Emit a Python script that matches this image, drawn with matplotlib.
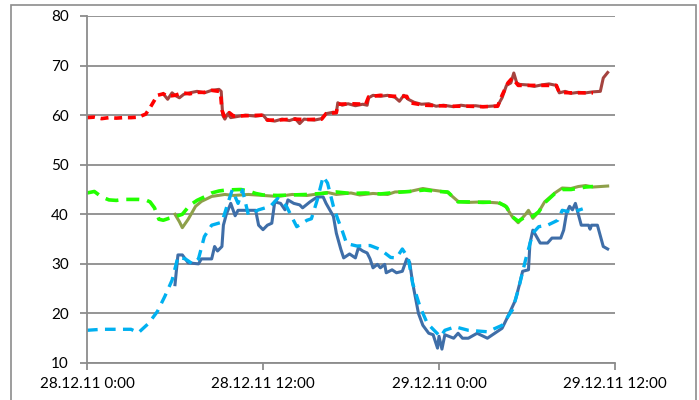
import matplotlib
matplotlib.use("Agg")
import matplotlib.pyplot as plt
import matplotlib.dates as mdates
from matplotlib.patches import Rectangle
from datetime import datetime, timedelta

start = datetime(2011, 12, 28, 0, 0)

# upper pair: computed (dashed) vs measured (solid)
red_t = [0, 0.5, 1, 1.5, 2, 2.5, 3, 3.5, 4, 4.3, 4.6, 4.8, 5.2, 5.5, 6, 6.5, 7, 7.5, 8, 8.5, 9, 9.1,
         9.2, 9.4, 9.7, 10, 11, 12, 12.3, 13, 14, 15, 16, 16.3, 17, 17.1, 18, 19, 19.2, 20, 21, 21.8,
         22, 22.6, 23, 24, 25, 26, 27, 28, 28.3, 28.7, 29, 29.4, 30, 31, 32, 32.2, 33, 34, 34.5]
red_v = [59.5, 59.6, 59.3, 59.5, 59.4, 59.5, 59.5, 59.6, 60.2, 61.5, 63, 64, 64.3, 63.8, 64, 64.5, 64.3,
         64.6, 64.6, 65, 64.8, 64.5, 61, 59.5, 60.5, 59.8, 59.9, 60, 59, 59, 59.2, 59.1, 59.2, 60.3, 60.5,
         62.2, 62.3, 62.2, 63.7, 64, 63.8, 63.8, 62.5, 62.2, 62, 61.9, 61.8, 61.8, 61.7, 61.8, 64, 66.5,
         67.5, 66, 66, 66, 66, 64.6, 64.5, 64.5, 64.5]

brown_t = [5.2, 5.5, 5.8, 6.0, 6.3, 6.6, 7, 7.5, 8, 8.5, 9, 9.15, 9.25, 9.4, 9.6, 9.8, 10.2, 10.8, 11.5,
           12, 12.3, 12.8, 13.3, 13.8, 14.2, 14.5, 14.8, 15.5, 16, 16.3, 16.8, 17.0, 17.1, 17.4, 17.8,
           18.3, 18.8, 19.1, 19.2, 19.5, 20, 20.5, 21, 21.3, 21.6, 21.9, 22.3, 22.8, 23.3, 23.8, 24.3,
           25, 25.5, 26, 26.5, 27, 27.5, 28, 28.3, 28.6, 28.9, 29.1, 29.3, 29.5, 30, 30.5, 31, 31.5, 32,
           32.2, 32.6, 33, 33.5, 34, 34.5, 35, 35.2, 35.5]
brown_v = [64.3, 63.2, 64.5, 64, 63.5, 64.2, 64.5, 64.8, 64.5, 65, 65.2, 64.8, 60, 59.2, 60.3, 59.5, 59.7,
           60, 59.8, 60, 59, 58.8, 59.2, 58.9, 59.3, 58.3, 59.2, 59, 59.3, 60.3, 60.6, 60.5, 62.5, 62,
           62.3, 61.9, 62.2, 62, 63.5, 64, 63.8, 64, 63.6, 62.8, 64, 63.2, 62.6, 62.2, 62.3, 61.8, 62,
           61.7, 62, 61.8, 61.9, 61.7, 61.8, 61.9, 63.5, 66, 66.5, 68.5, 66.5, 66.2, 66.1, 65.8, 66.1,
           66.3, 66, 64.5, 64.8, 64.4, 64.6, 64.5, 64.7, 64.8, 67.5, 68.6]

# middle pair
lime_t = [0, 0.5, 1, 1.5, 2, 2.5, 3, 3.5, 4, 4.3, 4.6, 4.9, 5.2, 5.6, 6, 6.5, 7, 7.5, 8, 8.5, 9, 9.5,
          10.5, 11, 11.5, 12, 13, 14, 15, 16, 17, 18, 19, 20, 21, 22, 23, 24, 24.6, 25.3, 26, 27, 28,
          28.6, 29, 29.4, 29.9, 30.4, 30.8, 31.2, 31.9, 32.4, 33, 34, 34.5]
lime_v = [44.3, 44.6, 43.5, 42.9, 42.8, 43, 43, 43, 42.9, 42.5, 41.3, 39, 38.8, 39.2, 39.5, 40, 41.8,
          42.8, 43.5, 44.3, 44.7, 44.9, 45, 44.7, 44.2, 43.9, 43.8, 43.9, 44, 44.2, 44.5, 44.2, 44.3,
          44.1, 44.4, 44.6, 44.9, 44.6, 44.5, 42.5, 42.5, 42.4, 42.5, 41.5, 39.5, 38.6, 39.5, 39.6,
          40.5, 42.3, 44.2, 45, 45, 45.5, 45.6]

olive_t = [6.0, 6.3, 6.5, 6.9, 7.4, 7.8, 8.5, 9.4, 10, 11, 12, 13, 14, 15, 16, 16.4, 17, 18, 18.6,
           19.5, 20.5, 21, 22, 22.9, 23.5, 24, 24.6, 25.3, 26, 27, 28, 28.5, 29, 29.4, 29.9, 30.1,
           30.4, 30.8, 31.2, 31.9, 32.4, 33, 33.5, 34, 34.5, 35, 35.5]
olive_v = [40, 38.5, 37.3, 39, 41.6, 42.6, 43.6, 44, 43.8, 44, 43.8, 43.6, 44, 43.8, 44.2, 44.4, 44,
           44.3, 43.9, 44.2, 44, 44.5, 44.6, 45.2, 44.9, 44.7, 44.4, 42.6, 42.4, 42.5, 42.3, 41.8, 39.5,
           38.3, 40, 40.8, 39.2, 40.5, 42.5, 44.3, 45.3, 45.2, 45.6, 45.8, 45.5, 45.6, 45.7]

# lower pair
sky_t = [0, 1, 2, 3, 3.5, 4.2, 4.8, 5.3, 5.8, 6.2, 6.7, 7.2, 7.6, 8.0, 8.5, 9.2, 9.6, 9.9, 10.3, 10.6,
         11, 11.7, 12.5, 13, 13.6, 14.3, 15, 15.3, 15.7, 16.1, 16.4, 16.8, 17.1, 17.4, 17.7, 18.4,
         19.3, 20, 20.7, 21.1, 21.5, 21.9, 22.2, 22.7, 23.2, 24.1, 24.4, 25.1, 26, 27.3, 28.3, 29,
         29.4, 29.9, 30.4, 30.8, 31.4, 32.1, 32.4, 33.1, 33.8]
sky_v = [16.6, 16.8, 16.8, 16.8, 16.1, 18, 20.4, 23.4, 26.7, 31.4, 31, 30, 31, 35.5, 37.8, 38.4, 42.2,
         44.9, 42.2, 44.9, 39.9, 40.9, 41.6, 43.2, 41.6, 37.5, 38.8, 39.1, 42.9, 47.6, 46.3, 41.6, 39,
         36.7, 34.1, 33.6, 33.7, 32.9, 31.3, 31.2, 33, 31.2, 26.1, 21.4, 18, 15.3, 16.6, 17.3, 16.6,
         16.3, 17.6, 20.7, 24.7, 30.8, 36.2, 37.5, 37.8, 38.8, 40.8, 40.4, 41.1]

steel_t = [6, 6.2, 6.5, 6.9, 7.6, 7.8, 8.5, 8.7, 8.9, 9.2, 9.3, 9.5, 9.8, 10.1, 10.3, 11.5, 11.7, 12.0,
           12.3, 12.6, 12.8, 13.2, 13.5, 13.7, 14.1, 14.5, 14.7, 15.2, 15.7, 16.1, 16.3, 16.8, 17,
           17.3, 17.5, 17.9, 18.3, 18.5, 18.8, 19.1, 19.3, 19.5, 19.8, 20, 20.3, 20.4, 20.8, 21.1,
           21.5, 21.8, 22, 22.2, 22.6, 22.9, 23.3, 23.6, 23.9, 24.0, 24.2, 24.4, 25.0, 25.3, 25.6,
           26.0, 26.6, 27.3, 27.8, 28.3, 28.7, 29.2, 29.5, 29.7, 30.1, 30.2, 30.4, 30.9, 31.4, 31.7,
           32.3, 32.5, 32.7, 32.9, 33.1, 33.3, 33.7, 34.2, 34.3, 34.4, 34.8, 35.2, 35.5]
steel_v = [25.8, 31.8, 31.8, 30.2, 30, 31, 31, 33.5, 32.6, 33.5, 37.8, 40, 42.2, 39.7, 40.8, 40.8, 37.8,
           36.9, 37.8, 38.2, 42.5, 42.2, 40.9, 42.9, 42.2, 41.9, 41.3, 42.5, 43.5, 43.5, 42.2, 39.6,
           36.2, 33, 31.2, 32, 31.2, 33.2, 32.6, 32.2, 31, 29.2, 29.9, 29.2, 29.9, 28.2, 28.8, 28.2,
           28.5, 31, 30.3, 26.2, 20, 17.6, 16, 15.7, 13, 15.4, 12.8, 15.7, 15, 16, 15, 15, 16, 15, 16,
           17, 19.4, 22.6, 26, 28.5, 28.8, 34.1, 36.8, 34.2, 34.2, 35.2, 35.2, 36.8, 40.3, 41.6, 40.9,
           42.2, 37.8, 37.8, 37, 37.8, 37.8, 33.5, 33]

y_ticks = [10, 20, 30, 40, 50, 60, 70, 80]
x_tick_hours = [0, 12, 24, 36]


def to_dates(hours):
    return [start + timedelta(hours=h) for h in hours]


plt.rcParams['font.family'] = ['Lato', 'DejaVu Sans']

fig = plt.figure(figsize=(6.99, 4.0), dpi=100)
ax = fig.add_axes([87 / 699, 1 - 363 / 400, 528 / 699, 347 / 400])

# outer chart frame
fig.patches.append(Rectangle((11 / 699, -0.1), 685 / 699, 1.1 - 5 / 400, transform=fig.transFigure,
                             fill=False, edgecolor='#8c8c8c', linewidth=1.2))

ax.plot(to_dates(brown_t), brown_v, color='#a5433f', lw=2.2, solid_joinstyle='round')
ax.plot(to_dates(olive_t), olive_v, color='#8ea04a', lw=2.2, solid_joinstyle='round')
ax.plot(to_dates(steel_t), steel_v, color='#3f6ea8', lw=2.2, solid_joinstyle='round')

ax.plot(to_dates(red_t), red_v, color='#ff0000', lw=2.6, dashes=(2.2, 1.6))
ax.plot(to_dates(lime_t), lime_v, color='#22ff00', lw=2.6, dashes=(3.6, 2.2))
ax.plot(to_dates(sky_t), sky_v, color='#00b0f0', lw=2.4, dashes=(3.2, 2.2))

ax.set_ylim(10, 80)
ax.set_yticks(y_ticks)
ax.set_xlim(start, start + timedelta(hours=36))
ax.set_xticks(to_dates(x_tick_hours))


def fmt_date(x, pos=None):
    d = mdates.num2date(x)
    return f"{d:%d.%m.%y} {d.hour}:{d:%M}"


ax.xaxis.set_major_formatter(plt.FuncFormatter(fmt_date))

ax.grid(axis='y', color='#8c8c8c', lw=1.3)
ax.set_axisbelow(True)
for side in ['top', 'right']:
    ax.spines[side].set_visible(False)
for side in ['left', 'bottom']:
    ax.spines[side].set_color('#8c8c8c')
    ax.spines[side].set_linewidth(1.3)
ax.tick_params(axis='both', colors='#8c8c8c', length=5, width=1.3, labelcolor='black', labelsize=11)
ax.tick_params(axis='y', pad=8)
ax.tick_params(axis='x', pad=5)

fig.savefig('out.png', dpi=100)
